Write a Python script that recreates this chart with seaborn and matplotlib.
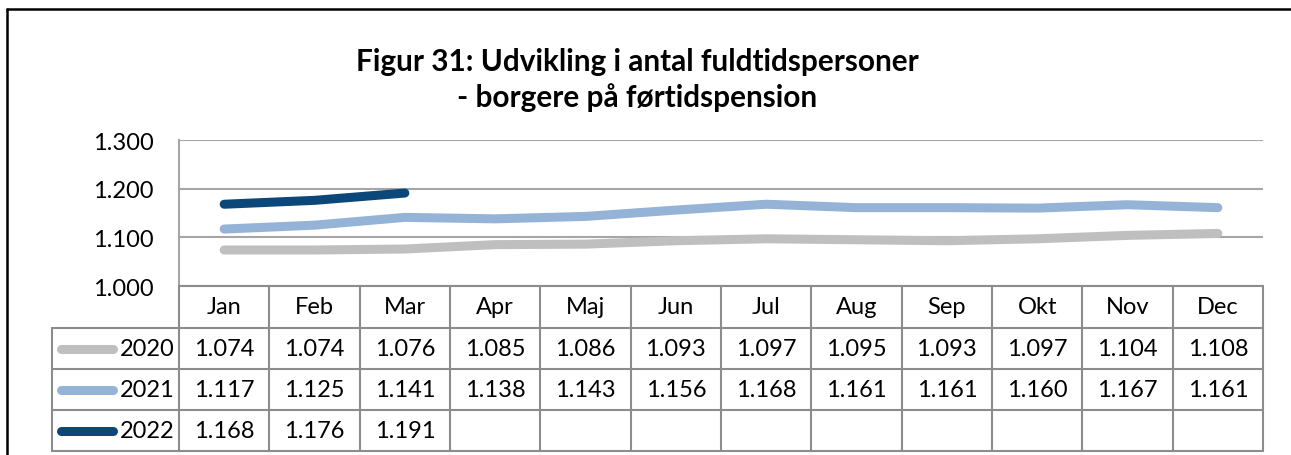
import numpy as np
import pandas as pd
import matplotlib
matplotlib.use("Agg")
import matplotlib.pyplot as plt
import seaborn as sns
from matplotlib.lines import Line2D
from matplotlib.transforms import blended_transform_factory
from matplotlib.ticker import FuncFormatter

# ---- data ----
months = ["Jan", "Feb", "Mar", "Apr", "Maj", "Jun", "Jul", "Aug", "Sep", "Okt", "Nov", "Dec"]
years = ["2020", "2021", "2022"]
v2020 = [1074, 1074, 1076, 1085, 1086, 1093, 1097, 1095, 1093, 1097, 1104, 1108]
v2021 = [1117, 1125, 1141, 1138, 1143, 1156, 1168, 1161, 1161, 1160, 1167, 1161]
v2022 = [1168, 1176, 1191]
y_ticks = [1000, 1100, 1200, 1300]
title = "Figur 31: Udvikling i antal fuldtidspersoner\n- borgere på førtidspension"
colors = {"2020": "#BFBFBF", "2021": "#95B3D7", "2022": "#0B4778"}

series = {"2020": v2020, "2021": v2021, "2022": v2022}
rows = []
for yr, vals in series.items():
    for i, v in enumerate(vals):
        rows.append({"month": months[i], "pos": i, "year": yr, "value": v})
df = pd.DataFrame(rows)

def fmt(v):
    return f"{v:,}".replace(",", ".")

sns.set_theme(style="white")
plt.rcParams["font.family"] = ["Lato", "DejaVu Sans"]

W, H = 1291, 456
fig = plt.figure(figsize=(W / 100, H / 100), dpi=100)
fig.patch.set_facecolor("white")

def fx(p):
    return p / W

def fy(p):
    return 1 - p / H

L, R, T, B = 179, 1263, 141, 287
ax = fig.add_axes([fx(L), fy(B), fx(R) - fx(L), fy(T) - fy(B)])

sns.lineplot(data=df, x="pos", y="value", hue="year", palette=colors,
             linewidth=6.5, ax=ax, legend=False, solid_capstyle="round", zorder=3)

ax.set_xlim(-0.5, len(months) - 0.5)
ax.set_ylim(y_ticks[0], y_ticks[-1])
ax.set_yticks(y_ticks)
ax.yaxis.set_major_formatter(FuncFormatter(lambda v, p: fmt(int(round(v)))))
ax.set_xticks([])
ax.set_xlabel("")
ax.set_ylabel("")
ax.tick_params(axis="y", length=0, pad=18.5, labelsize=17, labelcolor="#000000")
grid_c = "#A6A6A6"
ax.grid(axis="y", color=grid_c, linewidth=1.5, zorder=1)
for s in ["top", "right", "bottom"]:
    ax.spines[s].set_visible(False)
ax.spines["left"].set_color(grid_c)
ax.spines["left"].set_linewidth(1.5)

# ---- title ----
fig.text(fx(637), fy(80), title, ha="center", va="center", fontsize=21.4,
         fontweight="bold", color="#000000", linespacing=1.3)

# ---- data table ----
tr = blended_transform_factory(ax.transData, fig.transFigure)
line_c = "#8C8C8C"
row_edges = [287, 329, 370, 411, 452]
lbl_left = 52
n = len(months)

# vertical separators
for i in range(n + 1):
    fig.add_artist(Line2D([i - 0.5, i - 0.5], [fy(row_edges[0]), fy(row_edges[-1])],
                          transform=tr, color=line_c, linewidth=1.5))
fig.add_artist(Line2D([fx(lbl_left), fx(lbl_left)], [fy(row_edges[1]), fy(row_edges[-1])],
                      transform=fig.transFigure, color=line_c, linewidth=1.5))
# horizontal separators
fig.add_artist(Line2D([-0.5, n - 0.5], [fy(row_edges[0])] * 2, transform=tr,
                      color=line_c, linewidth=1.5))
for e in row_edges[1:]:
    fig.add_artist(Line2D([fx(lbl_left), fx(R)], [fy(e)] * 2, transform=fig.transFigure,
                          color=line_c, linewidth=1.5))

fs = 17
hc = (row_edges[0] + row_edges[1]) / 2
for i, m in enumerate(months):
    fig.text(i, fy(hc), m, transform=tr, ha="center", va="center", fontsize=fs, color="#000000")

for r, yr in enumerate(years):
    yc = (row_edges[r + 1] + row_edges[r + 2]) / 2
    vals = series[yr]
    for i, v in enumerate(vals):
        fig.text(i, fy(yc), fmt(v), transform=tr, ha="center", va="center",
                 fontsize=fs, color="#000000")
    # legend key
    fig.add_artist(Line2D([fx(61), fx(113)], [fy(yc)] * 2, transform=fig.transFigure,
                          color=colors[yr], linewidth=6.5, solid_capstyle="round"))
    fig.text(fx(175), fy(yc), yr, ha="right", va="center", fontsize=fs, color="#000000")

# ---- outer chart border (top and left) ----
fig.add_artist(Line2D([fx(7), fx(W + 10)], [fy(10), fy(10)], transform=fig.transFigure,
                      color="#000000", linewidth=1.8))
fig.add_artist(Line2D([fx(7), fx(7)], [fy(10), fy(H + 10)], transform=fig.transFigure,
                      color="#000000", linewidth=1.8))

fig.savefig("out.png", dpi=100, facecolor="white")
